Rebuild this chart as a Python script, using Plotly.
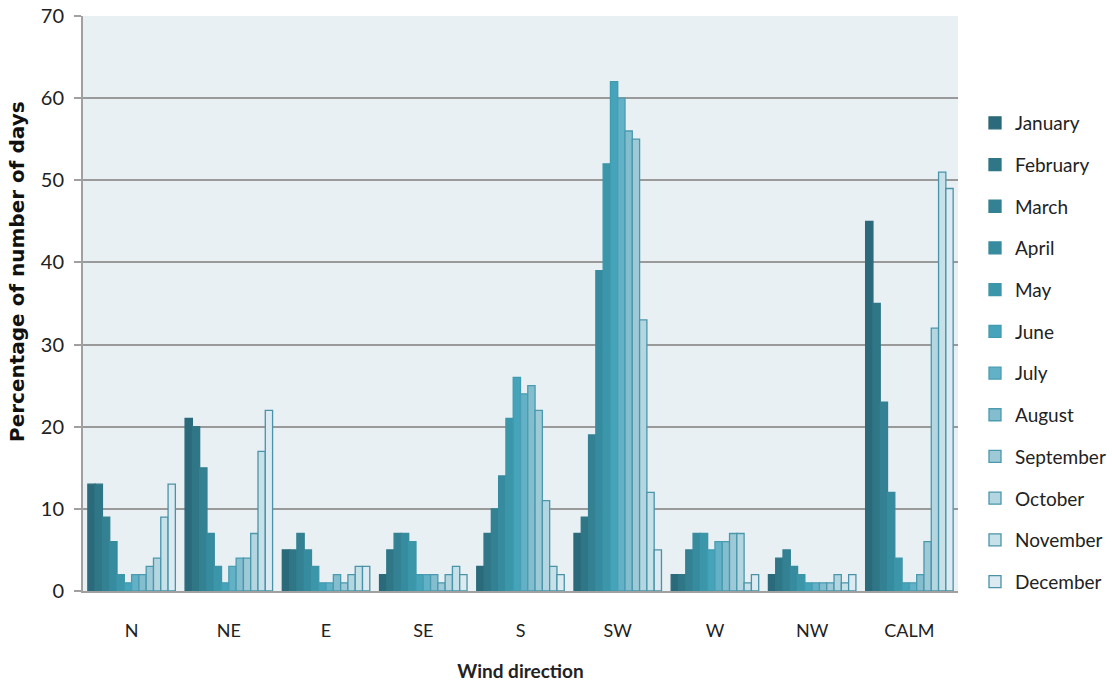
import plotly.graph_objects as go

directions = ["N", "NE", "E", "SE", "S", "SW", "W", "NW", "CALM"]
months = ["January", "February", "March", "April", "May", "June", "July",
          "August", "September", "October", "November", "December"]

january = [13, 21, 5, 2, 3, 7, 2, 2, 45]
february = [13, 20, 5, 5, 7, 9, 2, 4, 35]
march = [9, 15, 7, 7, 10, 19, 5, 5, 23]
april = [6, 7, 5, 7, 14, 39, 7, 3, 12]
may = [2, 3, 3, 6, 21, 52, 7, 2, 4]
june = [1, 1, 1, 2, 26, 62, 5, 1, 1]
july = [2, 3, 1, 2, 24, 60, 6, 1, 1]
august = [2, 4, 2, 2, 25, 56, 6, 1, 2]
september = [3, 4, 1, 1, 22, 55, 7, 1, 6]
october = [4, 7, 2, 2, 11, 33, 7, 2, 32]
november = [9, 17, 3, 3, 3, 12, 1, 1, 51]
december = [13, 22, 3, 2, 2, 5, 2, 2, 49]

series = [january, february, march, april, may, june, july, august,
          september, october, november, december]

colors = ["#2b6a7a", "#2f7687", "#338192", "#378b9e", "#3c96aa", "#46a4ba",
          "#62b1c7", "#84bdce", "#9ecad7", "#b4d6e1", "#c7e1e9", "#dbebf1"]
outline = ["#2b6a7a", "#2f7687", "#338192", "#378b9e", "#3c96aa", "#3f9bb0",
           "#4a9db2", "#4a9bb0", "#4a98ad", "#4a96ab", "#4a94a9", "#4a92a7"]

font_family = "Lato, 'Open Sans', sans-serif"

fig = go.Figure()
for i, (m, vals) in enumerate(zip(months, series)):
    fig.add_trace(go.Bar(
        x=directions, y=vals, name=m,
        marker=dict(color=colors[i], line=dict(color=outline[i], width=1.3)),
        legendgroup=m,
    ))

fig.update_layout(
    width=1112, height=682,
    margin=dict(l=83, r=154, t=16, b=91, autoexpand=False),
    paper_bgcolor="white",
    plot_bgcolor="#e9f0f4",
    barmode="group",
    bargap=0.1,
    bargroupgap=0,
    font=dict(family=font_family, size=15, color="#222"),
    legend=dict(
        xref="container", yref="container",
        x=975 / 1112, xanchor="left", y=1 - 104 / 682, yanchor="top",
        traceorder="grouped", tracegroupgap=14,
        font=dict(size=19, family=font_family, color="#222"),
        itemwidth=30,
        maxheight=620,
    ),
    xaxis=dict(
        title=dict(text="<b>Wind direction</b>", font=dict(size=19, family=font_family), standoff=30),
        showline=True, linecolor="#a0a0a0", linewidth=2,
        ticks="", ticklabelstandoff=22,
        tickfont=dict(size=18),
        range=[-0.5, 8.5],
        automargin=False,
    ),
    yaxis=dict(
        range=[0, 70], dtick=10,
        showline=True, linecolor="#a0a0a0", linewidth=2,
        gridcolor="#9a9a9a", gridwidth=1.5,
        ticks="outside", ticklen=7, tickcolor="#a0a0a0", tickwidth=2,
        tickfont=dict(size=20),
        ticklabelstandoff=6,
        zeroline=False,
        automargin=False,
    ),
    annotations=[dict(
        text="<b>Percentage of number of days</b>",
        xref="paper", yref="paper",
        x=(17 - 83) / 875, y=(591 - 272) / 575,
        xanchor="center", yanchor="middle",
        textangle=-90, showarrow=False,
        font=dict(size=20, family="'DejaVu Sans', sans-serif", color="#111"),
    )],
)

fig.write_html("out.html")
